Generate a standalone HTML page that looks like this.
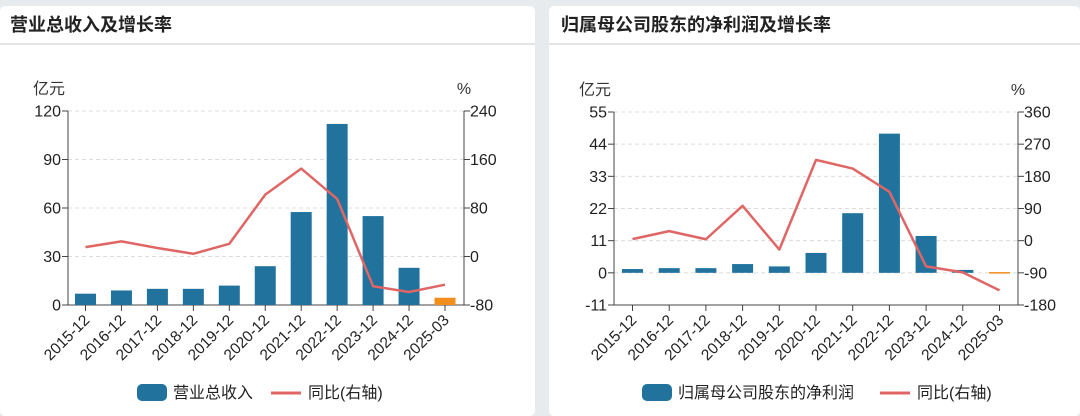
<!DOCTYPE html>
<html><head><meta charset="utf-8">
<style>
html,body{margin:0;padding:0;width:1080px;height:409px;background:#e8ebee;overflow:hidden;font-family:"Liberation Sans","Noto Sans CJK SC",sans-serif;}
.panel{position:absolute;top:6px;height:410px;background:#fff;border-radius:5px;}
.title{height:37px;border-bottom:2px solid #e2e4e7;font-size:18px;font-weight:bold;color:#222;line-height:38px;padding-left:10px;}
svg{position:absolute;left:0;top:0;}
</style></head><body>
<div class="panel" style="left:0;width:535px">
  <div class="title">营业总收入及增长率</div>
</div>
<div class="panel" style="left:549px;width:531px">
  <div class="title" style="padding-left:12px">归属母公司股东的净利润及增长率</div>
</div>
<svg id="svg1" width="1080" height="409"></svg>
<svg id="svg2" width="1080" height="409"></svg>
<script>
const categories = ["2015-12","2016-12","2017-12","2018-12","2019-12","2020-12","2021-12","2022-12","2023-12","2024-12","2025-03"];
const revenueValues = [7,9,10,10,12,24,57.5,112,55,23,4.5];
const revenueGrowth = [15.5,25,14,4.5,21,102,145,95,-49,-58.6,-46.5];
const revenueLeftTicks = [0,30,60,90,120];
const revenueRightTicks = [-80,0,80,160,240];
const profitValues = [1.3,1.6,1.6,3,2.2,6.8,20.4,47.6,12.6,1.0,-0.1];
const profitGrowth = [4.4,26.7,4,97.5,-25,226,201.7,136.6,-72,-88.7,-139];
const profitLeftTicks = [-11,0,11,22,33,44,55];
const profitRightTicks = [-180,-90,0,90,180,270,360];

const NS="http://www.w3.org/2000/svg";
function mk(svg,tag,attrs,text){const e=document.createElementNS(NS,tag);for(const k in attrs)e.setAttribute(k,attrs[k]);if(text!==undefined)e.textContent=text;svg.appendChild(e);return e;}

function drawChart(svg,cfg){
  const {xL,xR,yT,yB,c0,c1,lMin,lMax,rMin,rMax,leftTicks,rightTicks,vals,growth,legendX,legendLabel,legendW}=cfg;
  const yL=v=>yB-(v-lMin)/(lMax-lMin)*(yB-yT);
  const yR=v=>yB-(v-rMin)/(rMax-rMin)*(yB-yT);
  const step=(c1-c0)/(categories.length-1);
  const xC=i=>c0+i*step;
  leftTicks.forEach(t=>{
    const y=yL(t);
    if(t!==lMin){const g=mk(svg,'line',{x1:xL,x2:xR,y1:y,y2:y,stroke:'#dcdcdc','stroke-dasharray':'4,3'});
    
    }
    mk(svg,'line',{x1:xL-6,x2:xL,y1:y,y2:y,stroke:'#444'});
    const tx=mk(svg,'text',{x:xL-7,y:y+5.5,'text-anchor':'end','font-size':16,fill:'#222'},String(t));
    
    
  });
  rightTicks.forEach(t=>{
    const y=yR(t);
    mk(svg,'line',{x1:xR,x2:xR+6,y1:y,y2:y,stroke:'#444'});
    const tx=mk(svg,'text',{x:xR+6,y:y+5.5,'font-size':16,fill:'#222'},String(t));
    
    
  });
  mk(svg,'line',{x1:xL,x2:xL,y1:yT,y2:yB,stroke:'#444'});
  mk(svg,'line',{x1:xR,x2:xR,y1:yT,y2:yB,stroke:'#444'});
  mk(svg,'line',{x1:xL,x2:xR,y1:yB,y2:yB,stroke:'#444'});
  const u=mk(svg,'text',{x:xL-3,y:yT-17,'text-anchor':'end','font-size':16,fill:'#333'},'亿元');
  
  
  const p=mk(svg,'text',{x:xR,y:yT-17,'text-anchor':'middle','font-size':16,fill:'#333'},'%');
  
  
  const bw=21, y0=yL(0);
  vals.forEach((v,i)=>{
    const last=i===vals.length-1;
    let top=Math.min(yL(v),y0), h=Math.abs(yL(v)-y0);
    if(h<1.5){h=1.5;top=y0-0.75;}
    const r=mk(svg,'rect',{x:xC(i)-bw/2,y:top,width:bw,height:h,fill:last?'#f28e1c':'#21739e'});
    
    
  });
  categories.forEach((c,i)=>{
    const x=xC(i);
    mk(svg,'line',{x1:x,x2:x,y1:yB,y2:yB+6,stroke:'#444'});
    const t=mk(svg,'text',{x:x+5,y:yB+16,'text-anchor':'end','font-size':15.5,fill:'#222',transform:`rotate(-45 ${x+5} ${yB+16})`},c);
    
    
  });
  const pts=growth.map((g,i)=>xC(i)+','+yR(g)).join(' ');
  const pl=mk(svg,'polyline',{points:pts,fill:'none',stroke:'#e06666','stroke-width':2.5,'stroke-linejoin':'round'});
  
  
  const lb=mk(svg,'rect',{x:legendX,y:384,width:30,height:17,rx:5,fill:'#21739e'});
  
  
  const lt=mk(svg,'text',{x:legendX+36,y:398,'font-size':16,fill:'#222'},legendLabel);
  
  
  const lx=legendX+36+legendW+18;
  const ll=mk(svg,'line',{x1:lx,x2:lx+30,y1:393,y2:393,stroke:'#e06666','stroke-width':3});
  
  
  const lt2=mk(svg,'text',{x:lx+37,y:398,'font-size':16,fill:'#222'},'同比(右轴)');
  
  
}
drawChart(document.getElementById('svg1'),{xL:68,xR:464,yT:111,yB:305,c0:85.5,c1:445,lMin:0,lMax:120,rMin:-80,rMax:240,
  leftTicks:revenueLeftTicks,rightTicks:revenueRightTicks,vals:revenueValues,growth:revenueGrowth,legendX:137,legendLabel:'营业总收入',legendW:80});
drawChart(document.getElementById('svg2'),{xL:614,xR:1018,yT:112,yB:305,c0:632.5,c1:999.5,lMin:-11,lMax:55,rMin:-180,rMax:360,
  leftTicks:profitLeftTicks,rightTicks:profitRightTicks,vals:profitValues,growth:profitGrowth,legendX:642,legendLabel:'归属母公司股东的净利润',legendW:184});
</script>
</body></html>
